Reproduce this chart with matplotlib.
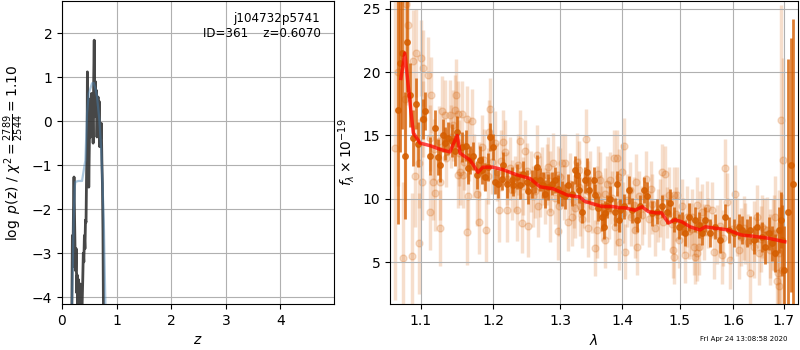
import matplotlib
matplotlib.use('Agg')
import matplotlib.pyplot as plt
from matplotlib.ticker import NullLocator, FormatStrFormatter

# ---- left panel: redshift probability ----
z_pdf = [0.170, 0.180, 0.190, 0.200, 0.210, 0.220, 0.230, 0.240, 0.250, 0.260,
         0.270, 0.280, 0.290, 0.300, 0.310, 0.320, 0.330, 0.340, 0.350, 0.360,
         0.370, 0.380, 0.390, 0.400, 0.410, 0.420, 0.430, 0.440, 0.450, 0.460,
         0.465, 0.470, 0.480, 0.490, 0.500, 0.510, 0.520, 0.530, 0.540, 0.550,
         0.560, 0.570, 0.580, 0.590, 0.600, 0.610, 0.620, 0.630, 0.640, 0.650,
         0.660, 0.670, 0.680, 0.690, 0.700, 0.710, 0.720, 0.730, 0.740, 0.750,
         0.760, 0.770]
logp = [-6.0, -4.3, -2.6, -3.3, -2.0, -1.27, -2.2, -3.0, -3.4, -2.9,
        -3.9, -3.5, -4.5, -3.6, -3.9, -4.6, -3.7, -4.4, -3.8, -5.0,
        -4.1, -3.6, -3.0, -3.2, -2.6, -2.9, -2.25, -2.3, -1.2, -0.4,
        1.12, -0.9, 0.0, -1.5, -0.6, 0.5, -0.36, 0.48, 0.63, -0.3,
        0.3, -0.5, 0.9, 1.84, 0.1, 0.9, 0.3, 0.7, -0.36, 0.2,
        0.55, -0.2, 0.45, -0.58, -0.1, -0.4, -0.05, -0.9, -1.41, -2.5,
        -4.5, -6.0]

z_prior = [0.170, 0.183, 0.214, 0.233, 0.245, 0.300, 0.367, 0.400, 0.428, 0.459,
           0.490, 0.550, 0.580, 0.610, 0.642, 0.685, 0.721, 0.765, 0.795, 0.810]
logp_prior = [-5.5, -4.2, -2.25, -1.5, -1.38, -1.36, -1.36, -1.1, -0.89, 0.18,
              0.63, 0.86, 0.87, 0.75, 0.55, 0.02, -0.73, -2.25, -4.2, -5.5]

# ---- right panel: spectrum ----
dark_wave = [1.0705, 1.0726, 1.0755, 1.0789, 1.0822, 1.0857, 1.0893, 1.0935, 1.0965, 1.1031,
             1.1060, 1.1121, 1.1188, 1.1228, 1.1255, 1.1300, 1.1323, 1.1368, 1.1415, 1.1460,
             1.1492, 1.1553, 1.1613, 1.1645, 1.1667, 1.1714, 1.1762, 1.1808, 1.1832, 1.1880,
             1.1927, 1.1951, 1.1990, 1.2023, 1.2071, 1.2120, 1.2143, 1.2193, 1.2266, 1.2290,
             1.2340, 1.2389, 1.2439, 1.2489, 1.2514, 1.2565, 1.2615, 1.2640, 1.2690, 1.2741,
             1.2767, 1.2818, 1.2870, 1.2921, 1.2973, 1.3026, 1.3078, 1.3129, 1.3183, 1.3236,
             1.3263, 1.3289, 1.3342, 1.3395, 1.3422, 1.3449, 1.3530, 1.3557, 1.3611, 1.3667,
             1.3694, 1.3721, 1.3749, 1.3804, 1.3887, 1.3915, 1.3942, 1.3970, 1.4026, 1.4111,
             1.4168, 1.4253, 1.4310, 1.4367, 1.4425, 1.4512, 1.4600, 1.4688, 1.4776, 1.4835,
             1.4894, 1.4984, 1.5046, 1.5105, 1.5165, 1.5288, 1.5349, 1.5416, 1.5472, 1.5565,
             1.5659, 1.5753, 1.5848, 1.5912, 1.6008, 1.6104, 1.6170, 1.6268, 1.6331, 1.6396,
             1.6463, 1.6562, 1.6628, 1.6694, 1.6762, 1.6829, 1.6897, 1.6931, 1.6965, 1.6998,
             1.7080, 1.7142, 1.7183]
dark_flux = [17.0, 20.7, 21.5, 13.4, 22.4, 18.2, 14.8, 17.5, 14.3, 16.3,
             16.9, 13.4, 15.6, 13.3, 12.7, 15.0, 14.4, 14.8, 14.6, 13.8,
             15.3, 14.1, 14.2, 12.4, 13.05, 13.4, 11.9, 13.05, 12.3, 11.75,
             12.5, 14.9, 14.1, 11.35, 11.2, 11.6, 12.7, 11.2, 11.5, 11.1,
             11.75, 11.1, 12.0, 11.35, 10.6, 11.2, 11.5, 12.5, 11.5, 11.1,
             10.4, 10.95, 11.2, 11.5, 10.8, 10.4, 10.2, 11.1, 10.4, 12.3,
             11.9, 10.7, 9.0, 11.5, 12.1, 10.7, 11.5, 10.3, 9.25, 8.6,
             7.8, 8.85, 9.4, 10.0, 9.0, 11.2, 8.35, 9.1, 9.4, 10.7,
             9.1, 8.35, 9.4, 10.7, 10.2, 8.85, 9.0, 9.4, 9.0, 9.65,
             8.35, 7.8, 8.05, 7.3, 8.6, 8.35, 7.95, 7.3, 8.35, 7.3,
             7.8, 6.75, 8.6, 7.55, 7.3, 7.8, 7.55, 7.3, 7.55, 6.75,
             7.8, 7.0, 6.2, 7.3, 6.5, 5.7, 7.55, 8.35, 6.75, 4.4,
             9.0, 12.65, 11.2]
dark_err = [9.0, 7.0, 6.0, 5.0, 4.0, 2.5, 2.2, 2.0, 1.8, 1.6,
            1.5, 1.5, 1.4, 1.4, 1.4, 1.3, 1.3, 1.3, 1.3, 1.2,
            1.2, 1.2, 1.2, 1.2, 1.1, 1.1, 1.1, 1.1, 1.1, 1.1,
            1.1, 1.1, 1.0, 1.0, 1.1, 0.9, 1.0, 1.1, 1.0, 0.9,
            1.0, 1.1, 1.0, 0.9, 1.0, 1.1, 1.0, 1.0, 0.9, 1.0,
            1.1, 1.0, 0.9, 1.0, 1.1, 1.0, 1.0, 0.9, 1.0, 1.1,
            1.0, 1.0, 0.9, 1.0, 1.1, 1.0, 1.0, 0.9, 1.0, 1.1,
            1.0, 1.0, 0.9, 1.0, 1.1, 1.0, 1.0, 0.9, 1.0, 1.1,
            1.0, 1.0, 0.9, 1.0, 1.1, 1.0, 1.0, 0.9, 1.0, 1.1,
            1.0, 1.0, 0.9, 1.0, 1.1, 1.0, 1.0, 0.9, 1.0, 1.1,
            1.0, 1.0, 1.0, 1.0, 1.1, 1.0, 1.1, 1.1, 1.1, 1.1,
            1.2, 1.2, 1.3, 1.3, 1.4, 1.5, 1.8, 2.2, 2.8, 3.5,
            12.0, 10.0, 13.0]

light_wave = [1.0660, 1.0700, 1.0766, 1.0788, 1.0809, 1.0831, 1.0887, 1.0896, 1.0918, 1.0939,
              1.0970, 1.0979, 1.1005, 1.1010, 1.1028, 1.1032, 1.1094, 1.1117, 1.1130, 1.1161,
              1.1184, 1.1251, 1.1258, 1.1286, 1.1319, 1.1387, 1.1432, 1.1455, 1.1469, 1.1500,
              1.1505, 1.1528, 1.1551, 1.1565, 1.1620, 1.1629, 1.1643, 1.1691, 1.1770, 1.1798,
              1.1832, 1.1893, 1.1941, 1.1951, 1.2023, 1.2085, 1.2143, 1.2168, 1.2201, 1.2266,
              1.2340, 1.2389, 1.2414, 1.2464, 1.2514, 1.2589, 1.2640, 1.2665, 1.2690, 1.2793,
              1.2818, 1.2844, 1.2895, 1.2968, 1.2973, 1.2984, 1.3026, 1.3077, 1.3129, 1.3183,
              1.3235, 1.3262, 1.3289, 1.3315, 1.3342, 1.3411, 1.3448, 1.3476, 1.3557, 1.3585,
              1.3611, 1.3639, 1.3667, 1.3721, 1.3749, 1.3804, 1.3859, 1.3887, 1.3915, 1.3920,
              1.3942, 1.3946, 1.3998, 1.4042, 1.4054, 1.4139, 1.4224, 1.4230, 1.4253, 1.4413,
              1.4500, 1.4570, 1.4688, 1.4746, 1.4805, 1.4883, 1.4894, 1.4898, 1.4954, 1.4983,
              1.5044, 1.5105, 1.5165, 1.5227, 1.5257, 1.5287, 1.5318, 1.5322, 1.5348, 1.5410,
              1.5504, 1.5597, 1.5627, 1.5785, 1.5848, 1.5880, 1.5944, 1.6027, 1.6073, 1.6104,
              1.6233, 1.6317, 1.6396, 1.6463, 1.6496, 1.6562, 1.6662, 1.6728, 1.6795, 1.6829,
              1.6863, 1.6884, 1.6896, 1.6900, 1.6931, 1.6966, 1.6978]
light_flux = [14.0, 20.0, 5.3, 17.9, 25.4, 23.7, 5.5, 20.9, 11.8, 21.5,
              12.8, 6.5, 21.1, 11.3, 20.3, 16.3, 19.75, 9.0, 18.2, 11.35,
              10.5, 7.7, 11.35, 16.9, 16.6, 16.6, 15.8, 17.0, 18.2, 11.9,
              16.7, 12.1, 16.7, 11.9, 16.3, 7.4, 10.2, 16.15, 10.35, 8.15,
              14.1, 7.55, 15.3, 17.05, 14.4, 9.1, 14.5, 13.7, 9.1, 10.7,
              9.1, 14.6, 8.1, 13.8, 7.85, 10.2, 13.45, 9.4, 10.95, 11.9,
              12.5, 9.0, 12.8, 11.9, 7.45, 9.4, 12.8, 12.8, 8.2, 8.6,
              9.25, 12.9, 12.3, 9.4, 8.45, 14.75, 7.7, 11.5, 6.1, 7.55,
              12.0, 11.5, 8.85, 6.75, 11.2, 11.5, 13.2, 7.8, 8.45, 13.2,
              11.75, 6.6, 12.1, 14.2, 5.85, 10.7, 7.55, 11.35, 6.2, 11.6,
              10.8, 7.7, 12.1, 12.0, 10.3, 5.97, 10.3, 5.45, 10.3, 6.75,
              9.4, 5.6, 7.45, 8.6, 6.2, 5.45, 5.7, 9.5, 6.2, 9.0,
              9.25, 9.1, 5.85, 5.6, 12.4, 9.75, 5.2, 10.4, 7.8, 6.0,
              7.3, 4.15, 6.2, 8.6, 5.7, 7.8, 7.55, 6.0, 7.3, 8.6,
              3.5, 4.15, 3.1, 5.7, 16.25, 4.4, 13.1]
light_err = [12.0, 9.0, 6.0, 8.0, 8.0, 6.0, 5.0, 4.0, 4.0, 3.5,
             3.5, 4.0, 3.0, 3.0, 3.0, 3.0, 3.0, 3.0, 3.0, 3.0,
             3.0, 3.0, 3.0, 2.8, 2.8, 2.8, 2.8, 2.8, 2.8, 2.6,
             2.6, 2.6, 2.6, 2.6, 2.6, 2.6, 2.6, 2.5, 2.5, 2.5,
             2.5, 2.5, 2.5, 2.5, 2.5, 2.5, 2.5, 2.5, 2.5, 2.4,
             2.4, 2.4, 2.4, 2.4, 2.4, 2.4, 2.4, 2.4, 2.4, 2.4,
             2.4, 2.4, 2.4, 2.3, 2.3, 2.3, 2.3, 2.3, 2.3, 2.3,
             2.3, 2.3, 2.3, 2.3, 2.3, 2.3, 2.3, 2.3, 2.2, 2.2,
             2.2, 2.2, 2.2, 2.2, 2.2, 2.2, 2.2, 2.2, 2.2, 2.2,
             2.2, 2.2, 2.2, 2.2, 2.2, 2.2, 2.2, 2.2, 2.2, 2.2,
             2.2, 2.2, 2.2, 2.2, 2.2, 2.2, 2.2, 2.2, 2.2, 2.2,
             2.2, 2.2, 2.2, 2.2, 2.2, 2.2, 2.2, 2.2, 2.2, 2.2,
             2.2, 2.2, 2.2, 2.3, 2.3, 2.3, 2.3, 2.3, 2.3, 2.3,
             2.4, 2.4, 2.4, 2.5, 2.5, 2.5, 2.6, 2.8, 3.0, 3.2,
             3.5, 4.0, 4.5, 5.0, 9.0, 6.0, 8.0]

trend_wave = [1.112, 1.118, 1.124, 1.134, 1.141, 1.152, 1.158, 1.166, 1.172, 1.179,
              1.186, 1.192, 1.198, 1.205, 1.211, 1.219, 1.224, 1.231, 1.236, 1.243,
              1.249, 1.256, 1.262, 1.272, 1.277, 1.284, 1.292, 1.300, 1.306, 1.315,
              1.321, 1.329, 1.337, 1.344, 1.351, 1.358, 1.366, 1.371, 1.378, 1.384,
              1.397, 1.402, 1.409, 1.416, 1.421, 1.428, 1.434, 1.438, 1.446, 1.452,
              1.462, 1.466, 1.471, 1.477, 1.486, 1.493, 1.507, 1.513, 1.521, 1.538,
              1.545, 1.552, 1.569, 1.575, 1.581, 1.598, 1.615, 1.621, 1.628, 1.641,
              1.653, 1.660, 1.671, 1.677]
trend_flux = [14.8, 13.9, 14.6, 13.2, 14.9, 13.6, 12.9, 13.8, 12.6, 12.2,
              13.1, 11.8, 12.9, 12.1, 13.0, 11.6, 12.4, 11.2, 12.7, 11.0,
              12.2, 11.4, 10.6, 11.8, 10.2, 11.4, 10.1, 11.7, 10.5, 11.2,
              9.8, 10.9, 9.9, 10.6, 9.4, 10.3, 9.7, 10.4, 9.1, 10.1,
              9.6, 8.9, 9.9, 8.6, 9.5, 10.2, 8.7, 9.3, 8.4, 9.6,
              8.7, 9.3, 8.2, 8.9, 8.0, 8.8, 7.9, 8.6, 7.6, 8.3,
              7.4, 8.1, 7.2, 7.9, 6.9, 7.6, 7.0, 7.7, 6.6, 7.4,
              6.8, 7.6, 6.5, 7.2]
trend_err = [2.6, 2.4, 2.7, 2.3, 2.5, 2.6, 2.2, 2.4, 2.5, 2.3,
             2.4, 2.2, 2.5, 2.3, 2.4, 2.1, 2.5, 2.2, 2.4, 2.3,
             2.2, 2.4, 2.1, 2.3, 2.2, 2.4, 2.1, 2.3, 2.2, 2.4,
             2.1, 2.3, 2.2, 2.4, 2.1, 2.3, 2.2, 2.0, 2.3, 2.1,
             2.2, 2.4, 2.1, 2.3, 2.2, 2.0, 2.3, 2.1, 2.2, 2.4,
             2.1, 2.3, 2.2, 2.0, 2.3, 2.1, 2.2, 2.4, 2.1, 2.3,
             2.2, 2.0, 2.3, 2.1, 2.2, 2.4, 2.3, 2.5, 2.2, 2.4,
             2.6, 2.5, 2.7, 2.8]

model_wave = [1.074, 1.079, 1.085, 1.090, 1.099, 1.112, 1.126, 1.139, 1.145, 1.149,
              1.153, 1.167, 1.178, 1.185, 1.199, 1.214, 1.234, 1.254, 1.269, 1.289,
              1.311, 1.331, 1.339, 1.367, 1.383, 1.397, 1.405, 1.422, 1.434, 1.445,
              1.457, 1.468, 1.480, 1.492, 1.504, 1.519, 1.537, 1.547, 1.590, 1.603,
              1.616, 1.636, 1.668, 1.702]
model_flux = [19.5, 21.5, 18.0, 15.2, 14.4, 14.2, 13.9, 13.7, 14.5, 15.0,
              13.6, 13.05, 12.1, 12.5, 12.5, 12.3, 11.9, 11.6, 10.95, 10.8,
              10.3, 10.15, 9.8, 9.4, 9.4, 9.3, 9.3, 9.1, 9.38, 9.0,
              8.9, 8.9, 8.1, 8.35, 8.2, 7.8, 7.55, 7.8, 7.55, 7.33,
              7.15, 7.07, 6.9, 6.62]

g141 = (0.8352941176470589, 0.3686274509803922, 0.0)

fig = plt.figure(figsize=(8, 3.5), dpi=100)
ax1 = fig.add_axes([0.0775, 0.131, 0.34, 0.866])
ax2 = fig.add_axes([0.4875, 0.131, 0.51, 0.866])

ax1.plot(z_pdf, logp, color='0.2', alpha=0.9, lw=2)
ax1.plot(z_prior, logp_prior, color='steelblue', alpha=0.45, lw=1.6)
ax1.set_xlim(0, 4.98)
ax1.set_ylim(-4.16, 2.73)
ax1.set_xticks([0, 1, 2, 3, 4])
ax1.set_yticks([-4, -3, -2, -1, 0, 1, 2])
ax1.grid()
ax1.set_xlabel(r'$z$')
ax1.set_ylabel(r'$\log\ p$(z) / $\chi^2=\frac{2789}{2544}=1.10$')
ax1.text(0.95, 0.965, 'j104732p5741\nID=361    z=0.6070', ha='right', va='top',
         transform=ax1.transAxes, fontsize=8.6)

ax2.errorbar(light_wave, light_flux, yerr=light_err, fmt='o', color=g141,
             alpha=0.2, ms=5, elinewidth=2.5, capsize=0, zorder=1)
ax2.errorbar(trend_wave, trend_flux, yerr=trend_err, fmt='o', color=g141,
             alpha=0.2, ms=5, elinewidth=2.5, capsize=0, zorder=1)
ax2.errorbar(dark_wave, dark_flux, yerr=dark_err, fmt='o', color=g141,
             alpha=0.8, ms=4, elinewidth=2, capsize=0, zorder=2)
ax2.plot(model_wave, model_flux, color='r', alpha=0.7, lw=2.5, zorder=3)

ax2.set_xscale('log')
ax2.set_xlim(1.06, 1.729)
ax2.set_ylim(1.7, 25.6)
ax2.set_xticks([1.1, 1.2, 1.3, 1.4, 1.5, 1.6, 1.7])
ax2.xaxis.set_major_formatter(FormatStrFormatter('%.1f'))
ax2.xaxis.set_minor_locator(NullLocator())
ax2.set_yticks([5, 10, 15, 20, 25])
ax2.grid()
ax2.set_xlabel(r'$\lambda$')
ax2.set_ylabel(r'$f_\lambda\times10^{-19}$')

fig.text(0.984, 0.031, 'Fri Apr 24 13:08:58 2020', ha='right', va='center', fontsize=5)

fig.savefig('out.png', dpi=100)
